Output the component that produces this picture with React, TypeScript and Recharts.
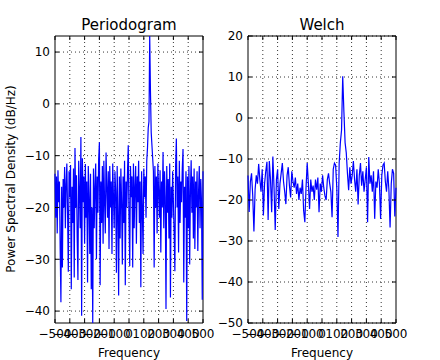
import { LineChart, Line, XAxis, YAxis, ReferenceLine, ReferenceArea } from "recharts";

// periodogram, 5 Hz apart from -500 Hz to 500 Hz (dB/Hz)
const periodogramDb = [
  -13.5, -22, -14, -25, -12.8, -19, -15, -28, -38.3, -16,
  -31.6, -14.5, -20, -12.2, -24, -15.5, -11.5, -21, -32.4, -13,
  -18, -11.8, -35.8, -16, -23, -12.5, -33.5, -8.5, -20, -13.8,
  -26, -34, -11, -17, -24, -6.4, -40.9, -10.5, -19, -14,
  -27, -11.6, -22, -15, -34.5, -12, -18, -29, -13.5, -35.8,
  -20, -42.3, -12.5, -24, -16, -11.5, -30, -14, -21, -10.8,
  -7.4, -35, -15, -23, -12, -27, -11, -19, -25, -9.4,
  -16, -22, -13, -28, -12, -20, -15, -29, -11.5, -18,
  -24, -13, -17, -32.6, -12, -21, -37, -14, -26, -12.5,
  -19, -31, -14, -23, -11, -35, -15, -20, -13, -8,
  -22, -31.3, -12, -18, -14, -31.6, -11.5, -24, -16, -12,
  -27, -14, -19, -11, -23, -15, -35.4, -13, -20, -29,
  -12.5, -18, -14, -22, -11, -8.5, -4.6, -3.4, 13.1, 2.4,
  -5.5, -8, -10.5, -13, -31.6, -12, -20, -14, -25, -11.5,
  -17, -22, -12.8, -28.7, -15, -20, -9.3, -24, -13, -18,
  -39.6, -12, -21, -14.5, -26, -11.5, -37.4, -16, -22, -13,
  -19, -25, -32.3, -12, -6.7, -20, -14, -28.7, -11, -23,
  -15, -19, -12.5, -8.7, -34.5, -16, -22, -13, -41.9, -14,
  -24, -12, -31, -17, -10.9, -21, -14, -26, -12.5, -28,
  -15, -20, -13, -28.4, -17, -12, -24, -14.5, -19, -37.8,
  -13,
];

// welch estimate, 8 Hz apart from -500 Hz to 500 Hz (dB/Hz)
const welchDb = [
  -14, -22.9, -15.5, -13.5, -19, -27.7, -17.4, -14, -16, -11.2,
  -15, -18, -12.5, -23.8, -16, -13, -10.7, -24.9, -10.5, -15,
  -23, -9.4, -17, -27.3, -15, -12.5, -22.2, -16, -13.5, -11,
  -15.5, -18, -21, -14, -12, -16.5, -19.4, -13, -15.5, -17,
  -14.5, -18.5, -16, -20, -17, -18.5, -15, -22.6, -25.4, -17,
  -11, -16, -22.2, -15, -18, -16.5, -20, -15, -17.5, -14.5,
  -23, -16, -18, -14, -17, -19, -20, -15, -13.5, -16,
  -18, -24.2, -12.5, -11, -11.5, -17, -29, -11, -6, -3,
  10.2, 1.5, -6, -8.5, -13.5, -17.6, -12, -16, -14, -10.5,
  -15, -18, -12.5, -21.1, -14, -11, -16.5, -13, -18, -15,
  -12, -25.4, -9.5, -16, -14, -18, -13, -24.6, -15.5, -17,
  -12.5, -16, -24.6, -14, -11.5, -11, -15.5, -18, -13, -17.5,
  -26.7, -16, -12.5, -13.5, -24, -17,
];

const freqTicks = [-500, -400, -300, -200, -100, 0, 100, 200, 300, 400, 500];
const periodogramTicks = [-40, -30, -20, -10, 0, 10];
const welchTicks = [-50, -40, -30, -20, -10, 0, 10, 20];

const FONT = "'DejaVu Sans', sans-serif";
const PLOT_W = 148;
const PLOT_H = 287;
const GRID = { stroke: "#000", strokeWidth: 0.8, strokeDasharray: "1 3" };

const fmt = (v: number) => (v < 0 ? `\u2212${Math.abs(v)}` : `${v}`);

const periodogramData = periodogramDb.map((db, i) => ({ freq: -500 + i * 5, db }));
const welchData = welchDb.map((db, i) => ({ freq: -500 + i * 8, db }));

// matplotlib classic: ticks point inwards, on all four sides
const renderFreqTick = (props: any) => {
  const { x, y, payload } = props;
  return (
    <g>
      <line x1={x} x2={x} y1={y} y2={y - 4} stroke="#000" />
      <line x1={x} x2={x} y1={y - PLOT_H} y2={y - PLOT_H + 4} stroke="#000" />
      <text x={x} y={y + 15} textAnchor="middle" fontSize={12} fontFamily={FONT} fill="#000">
        {fmt(payload.value)}
      </text>
    </g>
  );
};

const renderDbTick = (props: any) => {
  const { x, y, payload } = props;
  return (
    <g>
      <line x1={x} x2={x + 4} y1={y} y2={y} stroke="#000" />
      <line x1={x + PLOT_W - 4} x2={x + PLOT_W} y1={y} y2={y} stroke="#000" />
      <text x={x - 5} y={y} dy={4.4} textAnchor="end" fontSize={12} fontFamily={FONT} fill="#000">
        {fmt(payload.value)}
      </text>
    </g>
  );
};

function Panel({ data, ticks, domain, width, left }: { data: any[]; ticks: number[]; domain: any; width: number; left: number }) {
  return (
    <LineChart
      width={width}
      height={360}
      data={data}
      margin={{ top: 36, left: 0, right: width - left - PLOT_W, bottom: 7 }}
    >
      <XAxis
        type="number"
        dataKey="freq"
        domain={[-500, 500]}
        ticks={freqTicks}
        interval={0}
        height={30}
        tickSize={0}
        tickMargin={0}
        axisLine={false}
        tickLine={false}
        tick={renderFreqTick}
      />
      <YAxis
        type="number"
        domain={domain}
        ticks={ticks}
        interval={0}
        width={left}
        tickSize={0}
        tickMargin={0}
        axisLine={false}
        tickLine={false}
        tick={renderDbTick}
      />
      {freqTicks.slice(1, -1).map((t) => (
        <ReferenceLine key={`x${t}`} x={t} {...GRID} />
      ))}
      {ticks.map((t) => (
        <ReferenceLine key={`y${t}`} y={t} {...GRID} />
      ))}
      <Line
        type="linear"
        dataKey="db"
        stroke="#0000ff"
        strokeWidth={1.2}
        dot={false}
        isAnimationActive={false}
      />
      <ReferenceArea x1={-500} x2={500} fill="none" stroke="#000" strokeWidth={1} ifOverflow="visible" />
    </LineChart>
  );
}

export default function App() {
  return (
    <div style={{ position: "absolute", left: 0, top: 0, width: 440, height: 360, background: "#fff", fontFamily: FONT }}>
      <div style={{ position: "absolute", left: 0, top: 0 }}>
        <Panel data={periodogramData} ticks={periodogramTicks} domain={["dataMin", "dataMax"]} width={220} left={55} />
      </div>
      <div style={{ position: "absolute", left: 205, top: 0 }}>
        <Panel data={welchData} ticks={welchTicks} domain={[-50, 20]} width={235} left={43} />
      </div>
      <svg width={440} height={360} style={{ position: "absolute", left: 0, top: 0, pointerEvents: "none" }}>
        <g fontFamily={FONT} fill="#000">
          <text x={129} y={29.5} textAnchor="middle" fontSize={15}>Periodogram</text>
          <text x={322} y={29.5} textAnchor="middle" fontSize={15}>Welch</text>
          <text x={129} y={357} textAnchor="middle" fontSize={12}>Frequency</text>
          <text x={322} y={357} textAnchor="middle" fontSize={12}>Frequency</text>
          <text x={15} y={179} textAnchor="middle" fontSize={12} transform="rotate(-90 15 179)">
            Power Spectral Density (dB/Hz)
          </text>
        </g>
      </svg>
    </div>
  );
}
